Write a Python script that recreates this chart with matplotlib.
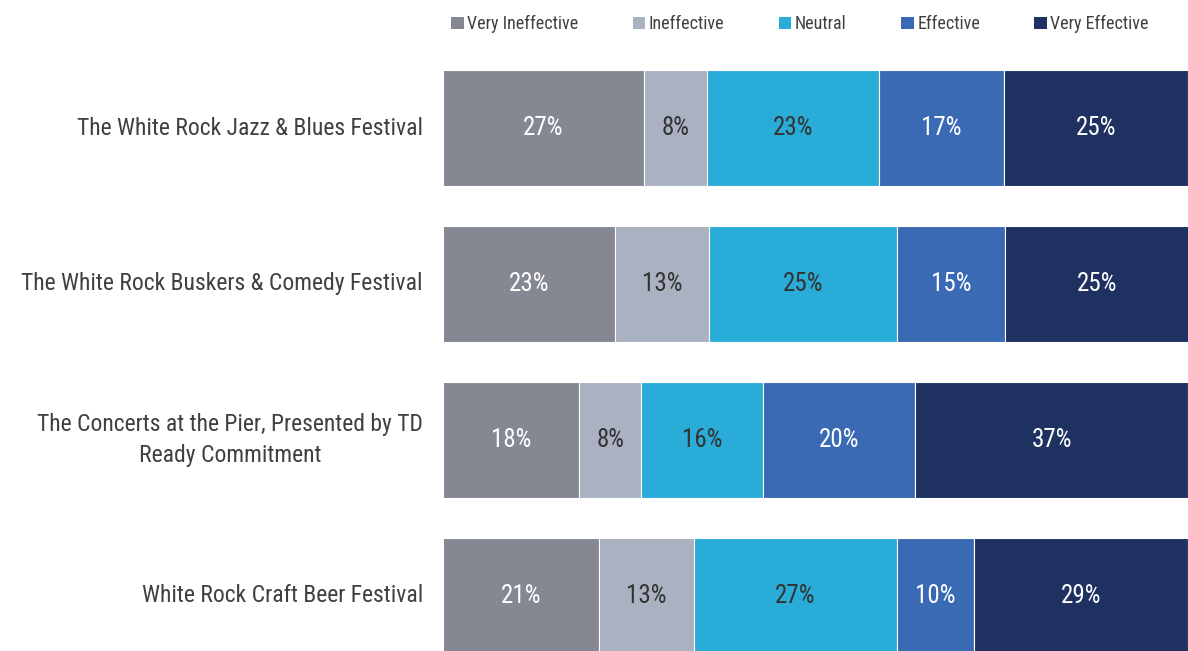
import matplotlib
matplotlib.use("agg")
import matplotlib.pyplot as plt
from matplotlib import font_manager
from matplotlib.patches import Patch
import numpy as np

# data
categories = [
    "The White Rock Jazz & Blues Festival",
    "The White Rock Buskers & Comedy Festival",
    "The Concerts at the Pier, Presented by TD\nReady Commitment",
    "White Rock Craft Beer Festival",
]
series_names = ["Very Ineffective", "Ineffective", "Neutral", "Effective", "Very Effective"]
very_ineffective = [27.0, 23.1, 18.3, 20.9]
ineffective = [8.4, 12.6, 8.3, 12.8]
neutral = [23.1, 25.2, 16.4, 27.2]
effective = [16.8, 14.6, 20.4, 10.4]
very_effective = [24.7, 24.6, 36.6, 28.7]

colors = ["#858893", "#aab1c1", "#2aacd8", "#3a6ab4", "#1e3160"]
label_colors = ["white", "#333333", "#333333", "white", "white"]

# pick a narrow font if one is around
names = {f.name for f in font_manager.fontManager.ttflist}
family = "DejaVu Sans"
for cand in ["Liberation Sans Narrow", "Arial Narrow", "Roboto Condensed",
             "DejaVu Sans Condensed", "Liberation Sans"]:
    if cand in names:
        family = cand
        break
plt.rcParams["font.family"] = [family, "DejaVu Sans"]

W, H = 1188, 651
fig = plt.figure(figsize=(W / 100, H / 100), dpi=100)
ax = fig.add_axes([443 / W, 0, 1 - 443 / W, (H - 48) / H])

series = [very_ineffective, ineffective, neutral, effective, very_effective]
y = np.arange(len(categories))
left = np.zeros(len(categories))
for vals, c, tc in zip(series, colors, label_colors):
    vals = np.array(vals)
    bars = ax.barh(y, vals, left=left, height=0.744, color=c,
                   edgecolor="white", linewidth=0.8)
    for yi, l, v in zip(y, left, vals):
        ax.text(l + v / 2, yi, f"{v:.0f}%", ha="center", va="center",
                fontsize=18, color=tc)
    left += vals

ax.set_xlim(0, 100)
ax.set_ylim(3.353, -0.513)
ax.axis("off")

for yi, cat in zip(y, categories):
    ax.text(-2.7, yi, cat, ha="right", va="center", multialignment="center",
            fontsize=17, color="#404040", linespacing=1.45)

handles = [Patch(facecolor=c, edgecolor="none") for c in colors]
fig.legend(handles, series_names, loc="upper center", ncol=5,
           bbox_to_anchor=(800 / W, 1.0), frameon=False, fontsize=13,
           handlelength=0.7, handleheight=0.7, handletextpad=0.2,
           columnspacing=3.0, labelcolor="#404040", borderaxespad=0.45)

fig.savefig("out.png", dpi=100)
